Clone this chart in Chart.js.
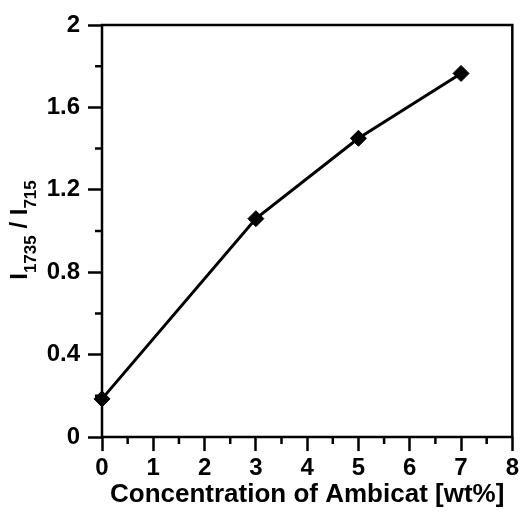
<!DOCTYPE html>
<html>
<head>
<meta charset="utf-8">
<script src="https://cdn.jsdelivr.net/npm/chart.js@4.4.0/dist/chart.umd.min.js"></script>
<style>
  html, body { margin: 0; padding: 0; background: #fff; }
  #wrap { width: 522px; height: 513px; }
</style>
</head>
<body>
<div id="wrap"><canvas id="chart" width="522" height="513"></canvas></div>
<script>
/* ── Data ───────────────────────────────────────────────────────────────── */
const concentration = [0, 3, 5, 7];
const intensityRatio = [0.185, 1.06, 1.45, 1.765];
const xTicks = [0, 1, 2, 3, 4, 5, 6, 7, 8];
const yTicks = [0, 0.4, 0.8, 1.2, 1.6, 2];
const xTitle = 'Concentration of Ambicat [wt%]';

const FONT = "'Liberation Sans', Arial, sans-serif";
const AXIS_W = 2.5;

/* ── Plugin: frame, minor ticks, titles ─────────────────────────────────── */
const decor = {
  id: 'decor',
  afterDraw(chart) {
    const { ctx, chartArea: a, scales } = chart;
    ctx.save();
    ctx.strokeStyle = '#000';
    ctx.lineWidth = AXIS_W;
    ctx.strokeRect(a.left, a.top, a.right - a.left, a.bottom - a.top);

    // minor ticks
    ctx.beginPath();
    for (let v = 0.5; v < 8; v += 1) {
      const x = scales.x.getPixelForValue(v);
      ctx.moveTo(x, a.bottom); ctx.lineTo(x, a.bottom + 7);
    }
    for (let v = 0.2; v < 2; v += 0.4) {
      const y = scales.y.getPixelForValue(v);
      ctx.moveTo(a.left, y); ctx.lineTo(a.left - 7, y);
    }
    ctx.stroke();

    // x title
    ctx.fillStyle = '#000';
    ctx.font = `bold 26px ${FONT}`;
    ctx.textAlign = 'center';
    ctx.textBaseline = 'alphabetic';
    ctx.fillText(xTitle, (a.left + a.right) / 2, 502);

    // y title with subscripts
    const parts = [
      ['I', 24, 0], ['1735', 17, 9], [' / I', 24, 0], ['715', 17, 9],
    ];
    let total = 0;
    parts.forEach(p => { ctx.font = `bold ${p[1]}px ${FONT}`; total += ctx.measureText(p[0]).width; });
    ctx.translate(27, 230);
    ctx.rotate(-Math.PI / 2);
    ctx.textAlign = 'left';
    let cx = -total / 2;
    parts.forEach(p => {
      ctx.font = `bold ${p[1]}px ${FONT}`;
      ctx.fillText(p[0], cx, p[2]);
      cx += ctx.measureText(p[0]).width;
    });
    ctx.restore();
  },
};

/* ── Chart ──────────────────────────────────────────────────────────────── */
new Chart(document.getElementById('chart'), {
  type: 'scatter',
  data: {
    datasets: [{
      data: concentration.map((c, i) => ({ x: c, y: intensityRatio[i] })),
      showLine: true,
      borderColor: '#000',
      backgroundColor: '#000',
      borderWidth: 3,
      pointStyle: 'rectRot',
      pointRadius: 8,
      pointBorderWidth: 1,
      clip: false,
    }],
  },
  options: {
    responsive: false,
    animation: false,
    layout: { padding: { top: 25, right: 9, left: 0, bottom: 0 } },
    plugins: { legend: { display: false }, tooltip: { enabled: false } },
    scales: {
      x: {
        type: 'linear',
        min: 0, max: 8,
        afterBuildTicks: s => { s.ticks = xTicks.map(v => ({ value: v })); },
        afterFit: s => { s.height = 76; },
        border: { display: false },
        grid: { drawOnChartArea: false, tickLength: 14, tickWidth: AXIS_W, color: '#000' },
        ticks: {
          color: '#000', padding: 3,
          font: { family: FONT, size: 24, weight: 'bold' },
          callback: v => String(v),
        },
      },
      y: {
        type: 'linear',
        min: 0, max: 2,
        afterBuildTicks: s => { s.ticks = yTicks.map(v => ({ value: v })); },
        afterFit: s => { s.width = 102; },
        border: { display: false },
        grid: { drawOnChartArea: false, tickLength: 14, tickWidth: AXIS_W, color: '#000' },
        ticks: {
          color: '#000', padding: 8,
          font: { family: FONT, size: 24, weight: 'bold' },
          callback: v => String(v),
        },
      },
    },
  },
  plugins: [decor],
});
</script>
</body>
</html>
